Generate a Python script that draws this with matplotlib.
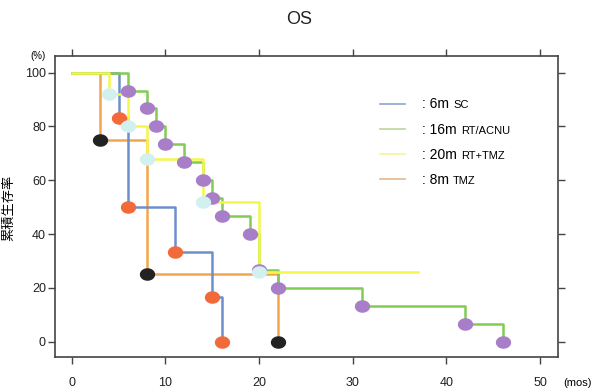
import numpy as np
import matplotlib
matplotlib.use("Agg")
from matplotlib import pyplot as plt
from matplotlib.path import Path

plt.rcParams["font.family"] = ["Liberation Sans", "Noto Sans CJK JP", "DejaVu Sans"]

# Kaplan-Meier steps (months, % survival)
sc_t = [0, 5, 6, 11, 15, 16]
sc_s = [100, 83.3, 50, 33.3, 16.7, 0]

acnu_t = [0, 6, 8, 9, 10, 12, 14, 15, 16, 19, 20, 22, 31, 42, 46]
acnu_s = [100, 93.3, 86.7, 80, 73.3, 66.7, 60, 53.3, 46.7, 40, 26.7, 20, 13.3, 6.7, 0]

rttmz_t = [0, 4, 6, 8, 14, 20, 37]
rttmz_s = [100, 92, 80, 68, 52, 26, 26]

tmz_t = [0, 3, 8, 22]
tmz_s = [100, 75, 25, 0]

legend_med = [": 6m", ": 16m", ": 20m", ": 8m"]
legend_name = ["SC", "RT/ACNU", "RT+TMZ", "TMZ"]
legend_col = ["#8fa6cf", "#b9d79a", "#f3f59a", "#e6b98a"]

# slightly wide ellipse marker
th = np.linspace(0, 2 * np.pi, 60)
ell = Path(np.column_stack([1.25 * np.cos(th), np.sin(th)]), closed=True)

fig = plt.figure(figsize=(5.93, 3.89), dpi=100)
ax = fig.add_axes([0.0927, 0.0823, 0.8482, 0.7738])

# lines (orange under, yellow on top)
ax.step(tmz_t, tmz_s, where="post", color="#f2a54a", lw=1.8, zorder=2)
ax.step(sc_t, sc_s, where="post", color="#6d8fcb", lw=1.8, zorder=3)
ax.step(acnu_t, acnu_s, where="post", color="#82cc52", lw=1.8, zorder=4)
ax.step(rttmz_t, rttmz_s, where="post", color="#f6f64a", lw=1.8, zorder=5)

# event markers
ms = 10
ax.plot(tmz_t[1:], tmz_s[1:], ls="none", marker=ell, ms=ms, mfc="#222222", mec="#222222", zorder=6)
ax.plot(sc_t[1:], sc_s[1:], ls="none", marker=ell, ms=ms, mfc="#f26a3a", mec="#f26a3a", zorder=6)
ax.plot(acnu_t[1:], acnu_s[1:], ls="none", marker=ell, ms=ms, mfc="#a87ec8", mec="#a87ec8", zorder=6)
ax.plot(rttmz_t[1:-1], rttmz_s[1:-1], ls="none", marker=ell, ms=ms, mfc="#d2f0f0", mec="#d2f0f0", zorder=7)

ax.set_xlim(-1.8, 51.9)
ax.set_ylim(-5.7, 106.2)
ax.set_xticks(np.arange(0, 51, 10))
ax.set_yticks(np.arange(0, 101, 20))
ax.tick_params(axis="both", direction="out", length=5, width=1, color="#444444",
               top=True, right=True, labelsize=9, labelcolor="#222222")
ax.tick_params(axis="x", pad=9.5)
ax.tick_params(axis="y", pad=1.5)
for s in ax.spines.values():
    s.set_color("#444444")
    s.set_linewidth(1.2)

ax.set_ylabel("累積生存率", fontsize=9.5, family=["Noto Sans CJK JP", "DejaVu Sans"])
ax.yaxis.set_label_coords(-0.0795, 0.495)
ax.text(-0.034, 1.0, "(%)", transform=ax.transAxes, ha="center", va="center", fontsize=7)
ax.text(1.01, -0.086, "(mos)", transform=ax.transAxes, ha="left", va="center", fontsize=8)
fig.text(299 / 593, 1 - 19 / 389, "OS", ha="center", va="center", fontsize=13, color="#222222")

# legend, drawn by hand because of the mixed text sizes
ys = [0.841, 0.757, 0.674, 0.591]
r = fig.canvas.get_renderer()
for y, med, name, c in zip(ys, legend_med, legend_name, legend_col):
    ax.plot([0.646, 0.696], [y, y], transform=ax.transAxes, color=c, lw=1.2)
    t = ax.text(0.73, y - 0.015, med, transform=ax.transAxes, ha="left", va="baseline",
                fontsize=10, family="Liberation Sans")
    bb = t.get_window_extent(r)
    x2 = ax.transAxes.inverted().transform((bb.x1, 0))[0]
    ax.text(x2 + 0.008, y - 0.015, name, transform=ax.transAxes, ha="left", va="baseline",
            fontsize=8, family="Liberation Sans")

plt.savefig("out.png", dpi=100)
